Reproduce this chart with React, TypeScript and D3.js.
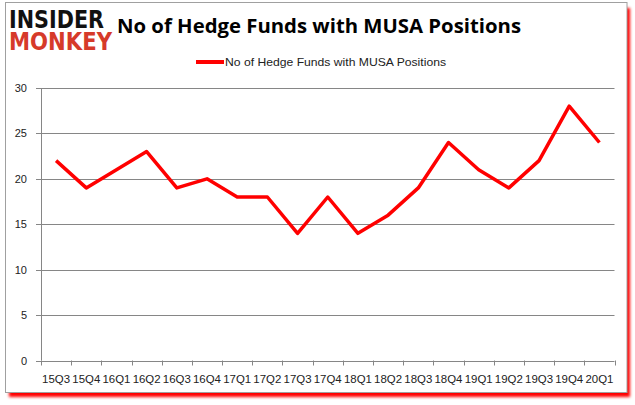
import React, { useEffect, useRef } from 'react';
import * as d3 from 'd3';

const quarters = [
  '15Q3', '15Q4', '16Q1', '16Q2', '16Q3', '16Q4', '17Q1', '17Q2', '17Q3', '17Q4',
  '18Q1', '18Q2', '18Q3', '18Q4', '19Q1', '19Q2', '19Q3', '19Q4', '20Q1',
];
const hedgeFunds = [22, 19, 21, 23, 19, 20, 18, 18, 14, 18, 14, 16, 19, 24, 21, 19, 22, 28, 24];
const yTicks = [0, 5, 10, 15, 20, 25, 30];
const chartTitle = 'No of Hedge Funds with MUSA Positions';
const seriesName = 'No of Hedge Funds with MUSA Positions';

const W = 635;
const H = 405;

const App: React.FC = () => {
  const svgRef = useRef<SVGSVGElement>(null);

  useEffect(() => {
    if (!svgRef.current) return;
    const svg = d3.select(svgRef.current);
    svg.selectAll('*').remove();

    const font = '"Liberation Sans", Arial, sans-serif';
    const left = 41;
    const right = 614.5;
    const top = 88;
    const bottom = 360.5;

    // Red shadow + frame
    const defs = svg.append('defs');
    const blur = defs.append('filter').attr('id', 'shadow').attr('x', '-5%').attr('y', '-5%').attr('width', '110%').attr('height', '115%');
    blur.append('feGaussianBlur').attr('stdDeviation', 1.5);
    svg.append('rect')
      .attr('x', 9).attr('y', 8).attr('width', 621).attr('height', 389)
      .attr('fill', '#ff0000').attr('filter', 'url(#shadow)');
    svg.append('rect')
      .attr('x', 5.5).attr('y', 2.5).attr('width', 621.5).attr('height', 390)
      .attr('fill', '#ffffff').attr('stroke', '#a0a0a0').attr('stroke-width', 1);

    // Logo (one text block, two lines)
    const logo = svg.append('text')
      .attr('font-family', '"DejaVu Sans", sans-serif').attr('font-weight', 'bold');
    logo.append('tspan')
      .attr('x', 9).attr('y', 28)
      .attr('font-size', 25).attr('fill', '#111')
      .attr('textLength', 95).attr('lengthAdjust', 'spacingAndGlyphs')
      .text('INSIDER');
    logo.append('tspan')
      .attr('x', 9).attr('y', 50)
      .attr('font-size', 24).attr('fill', '#d63a2a')
      .attr('textLength', 103).attr('lengthAdjust', 'spacingAndGlyphs')
      .text('MONKEY');

    // Title
    svg.append('text')
      .attr('x', 117).attr('y', 33)
      .attr('font-family', '"Open Sans", "Liberation Sans", sans-serif').attr('font-weight', 'bold')
      .attr('font-size', 20).attr('fill', '#000')
      .attr('textLength', 404).attr('lengthAdjust', 'spacingAndGlyphs')
      .text(chartTitle);

    // Legend
    svg.append('line')
      .attr('x1', 196).attr('x2', 224).attr('y1', 62).attr('y2', 62)
      .attr('stroke', '#ff0000').attr('stroke-width', 4);
    svg.append('text')
      .attr('x', 225).attr('y', 66)
      .attr('font-family', font).attr('font-size', 11).attr('fill', '#222')
      .attr('textLength', 221).attr('lengthAdjust', 'spacingAndGlyphs')
      .text(seriesName);

    const x = d3.scaleBand<string>().domain(quarters).range([left, right]);
    const y = d3.scaleLinear().domain([0, 30]).range([bottom, top]);

    // Gridlines + y labels
    const g = svg.append('g');
    yTicks.forEach((t) => {
      g.append('line')
        .attr('x1', left - 5).attr('x2', right)
        .attr('y1', Math.round(y(t)) + 0.5).attr('y2', Math.round(y(t)) + 0.5)
        .attr('stroke', '#868686').attr('stroke-width', 1);
      g.append('text')
        .attr('x', 27).attr('y', y(t) + 4)
        .attr('text-anchor', 'end')
        .attr('font-family', font).attr('font-size', 11).attr('fill', '#222')
        .text(String(t));
    });

    // Y axis line
    g.append('line')
      .attr('x1', left + 0.5).attr('x2', left + 0.5)
      .attr('y1', top).attr('y2', bottom)
      .attr('stroke', '#868686');

    // X ticks
    const edges = quarters.map((q) => x(q) as number).concat([right]);
    edges.forEach((e) => {
      g.append('line')
        .attr('x1', Math.round(e) + 0.5).attr('x2', Math.round(e) + 0.5)
        .attr('y1', bottom).attr('y2', bottom + 5)
        .attr('stroke', '#868686');
    });
    quarters.forEach((q) => {
      g.append('text')
        .attr('x', (x(q) as number) + x.bandwidth() / 2).attr('y', 383)
        .attr('text-anchor', 'middle')
        .attr('font-family', font).attr('font-size', 11).attr('fill', '#222')
        .attr('textLength', 28).attr('lengthAdjust', 'spacingAndGlyphs')
        .text(q);
    });

    // Line
    const line = d3.line<number>()
      .x((_, i) => (x(quarters[i]) as number) + x.bandwidth() / 2)
      .y((d) => y(d));
    svg.append('path')
      .datum(hedgeFunds)
      .attr('d', line)
      .attr('fill', 'none')
      .attr('stroke', '#ff0000')
      .attr('stroke-width', 3.5)
      .attr('stroke-linejoin', 'round');
  }, []);

  return <svg ref={svgRef} width={W} height={H} style={{ display: 'block', position: 'absolute', left: 0, top: 0 }} />;
};

export default App;
